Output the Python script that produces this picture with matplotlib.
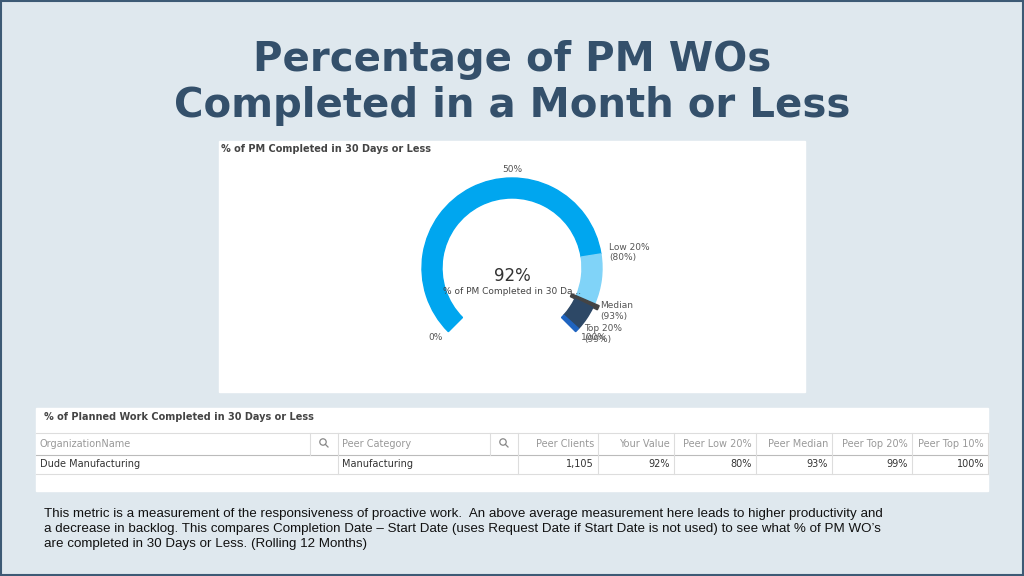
import numpy as np
import matplotlib.pyplot as plt
from matplotlib.patches import Wedge, Rectangle, Circle

# gauge data (percent)
band_edges = [0, 80, 92, 93, 99, 100]
band_colors = ['#00a6ef', '#80d3f8', '#444444', '#2d4866', '#1f64c0']
your_value = 92
gauge_labels = [(0, '0%'), (50, '50%'), (80, 'Low 20%\n(80%)'), (93, 'Median\n(93%)'), (99, 'Top 20%\n(99%)'), (100, '100%')]

# table data
columns = ['OrganizationName', 'Peer Category', 'Peer Clients', 'Your Value',
           'Peer Low 20%', 'Peer Median', 'Peer Top 20%', 'Peer Top 10%']
row = ['Dude Manufacturing', 'Manufacturing', '1,105', '92%', '80%', '93%', '99%', '100%']

fig = plt.figure(figsize=(10.24, 5.76), dpi=100)
fig.patch.set_facecolor('#dfe8ee')
ax = fig.add_axes([0, 0, 1, 1])
ax.set_xlim(0, 1024)
ax.set_ylim(576, 0)
ax.axis('off')
ax.add_patch(Rectangle((1, 1), 1022, 574, fill=False, ec='#3d5a75', lw=1.5))

ax.text(512, 60, 'Percentage of PM WOs', ha='center', va='center', fontsize=29,
        fontweight='bold', color='#34506b')
ax.text(512, 106, 'Completed in a Month or Less', ha='center', va='center', fontsize=29,
        fontweight='bold', color='#34506b')

# gauge panel
ax.add_patch(Rectangle((219, 141), 586, 251, color='white'))
ax.text(221, 149, '% of PM Completed in 30 Days or Less', fontsize=7, fontweight='bold',
        color='#444444', va='center')
cx, cy, r, w = 512, 268, 90, 20

def ang(p):
    return 225 - 270 * p / 100.0

for i, c in enumerate(band_colors):
    a0, a1 = ang(band_edges[i + 1]), ang(band_edges[i])
    extra = 5 if c == '#444444' else 0
    ax.add_patch(Wedge((cx, cy), r + extra, -a1, -a0, width=w + 2 * extra, color=c))
for p, lab in gauge_labels:
    t = np.deg2rad(ang(p))
    x = cx + (r + 8) * np.cos(t)
    y = cy - (r + 8) * np.sin(t)
    ha = 'center' if p == 50 else ('right' if p == 0 else 'left')
    ax.text(x, y, lab, ha=ha, va='center', fontsize=6.5, color='#555555')
ax.text(cx, cy + 8, f'{your_value}%', ha='center', va='center', fontsize=12, color='#333333')
ax.text(cx, cy + 23, '% of PM Completed in 30 Da...', ha='center', va='center', fontsize=6.5, color='#444444')

# table panel
ax.add_patch(Rectangle((36, 408), 952, 83, color='white'))
ax.text(44, 417, '% of Planned Work Completed in 30 Days or Less', fontsize=7, fontweight='bold',
        color='#444444', va='center')
col_x = [36, 338, 518, 598, 674, 756, 832, 912, 988]
ax.plot([36, 988], [433, 433], color='#dddddd', lw=0.8)
ax.plot([36, 988], [455, 455], color='#bbbbbb', lw=0.8)
ax.plot([36, 988], [474, 474], color='#dddddd', lw=0.8)
for i in range(len(columns)):
    x0, x1 = col_x[i], col_x[i + 1]
    ax.plot([x1, x1], [433, 474], color='#dddddd', lw=0.8)
    if i < 2:
        ax.text(x0 + 4, 444, columns[i], fontsize=7, color='#999999', va='center')
        ax.text(x0 + 4, 464, row[i], fontsize=7, color='#333333', va='center')
        ax.plot([x1 - 28, x1 - 28], [433, 455], color='#dddddd', lw=0.8)
        ax.add_patch(Circle((x1 - 15, 442), 3.2, fill=False, ec='#888888', lw=0.9))
        ax.plot([x1 - 12.7, x1 - 10], [444.3, 447], color='#888888', lw=0.9)
    else:
        ax.text(x1 - 4, 444, columns[i], fontsize=7, color='#999999', va='center', ha='right')
        ax.text(x1 - 4, 464, row[i], fontsize=7, color='#333333', va='center', ha='right')

desc = ("This metric is a measurement of the responsiveness of proactive work.  An above average measurement here leads to higher productivity and\n"
        "a decrease in backlog. This compares Completion Date \u2013 Start Date (uses Request Date if Start Date is not used) to see what % of PM WO\u2019s\n"
        "are completed in 30 Days or Less. (Rolling 12 Months)")
ax.text(44, 529, desc, fontsize=9.6, color='#111111', va='center', linespacing=1.3,
        family='Liberation Sans')

fig.savefig('out.png', dpi=100, facecolor=fig.get_facecolor())
